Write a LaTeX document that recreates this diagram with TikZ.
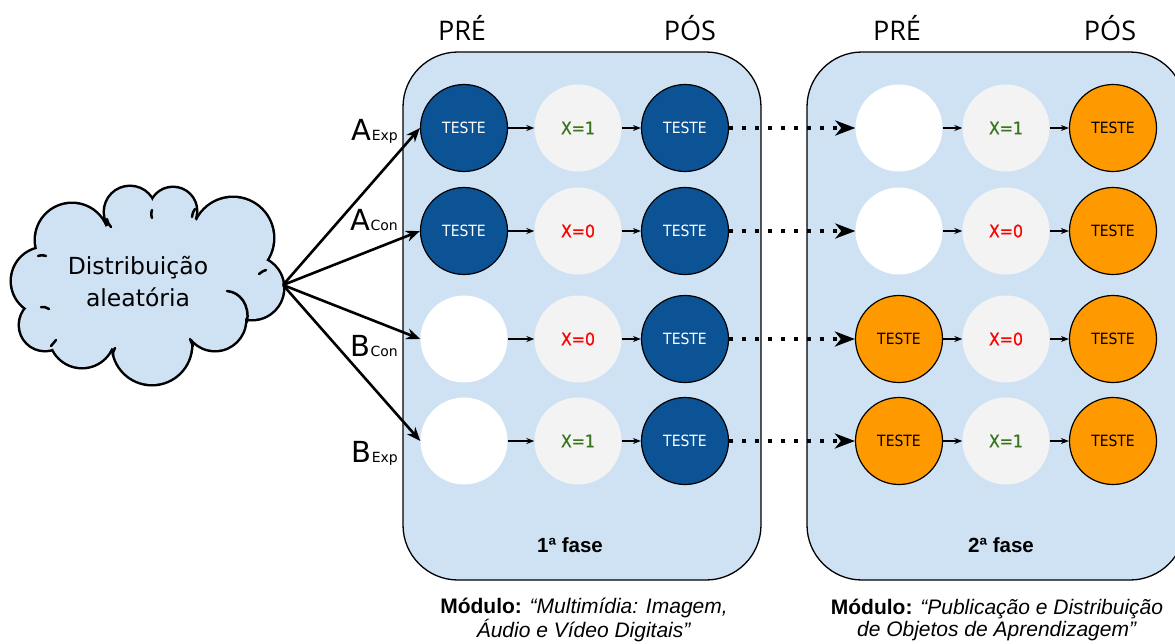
\documentclass[tikz,border=0pt]{standalone}
\usepackage{fontspec}
\setmainfont{DejaVu Sans}
\newfontfamily\condfont[FakeStretch=0.9]{DejaVu Sans}
\newfontfamily\xfont[FakeStretch=0.9,FakeBold=0.6]{DejaVu Sans}
\newfontfamily\hdrfont{Open Sans}
\newfontfamily\arialfont{Liberation Sans}
\usetikzlibrary{arrows.meta}

\definecolor{panelblue}{RGB}{207,226,243}
\definecolor{testblue}{RGB}{11,83,148}
\definecolor{testorange}{RGB}{255,153,0}
\definecolor{xgray}{RGB}{243,243,243}
\definecolor{xgreen}{RGB}{56,118,29}
\definecolor{xred}{RGB}{255,0,0}

\newcommand\grpsub[1]{{\fontsize{14}{16}\selectfont #1}}

\begin{document}
\begin{tikzpicture}[x=1pt,y=-1pt,
  panel/.style={draw=black, line width=1.3pt, fill=panelblue, rounded corners=55pt, inner sep=0pt},
  ball/.style={circle, minimum size=87pt, inner sep=0pt, font=\condfont\fontsize{15.5}{18}\selectfont},
  bluetest/.style={ball, draw=black, line width=1.2pt, fill=testblue, text=white},
  orangetest/.style={ball, draw=black, line width=1.2pt, fill=testorange, text=black},
  emptyball/.style={ball, fill=white},
  xball/.style={ball, fill=xgray, font=\xfont\fontsize{17.5}{20}\selectfont},
  grouplab/.style={anchor=base east, inner sep=0pt, font=\fontsize{29}{32}\selectfont},
  hdr/.style={anchor=base, inner sep=0pt, font=\hdrfont\fontsize{27}{30}\selectfont},
  phase/.style={anchor=base, inner sep=0pt, font=\arialfont\bfseries\fontsize{20.5}{22}\selectfont},
  modtxt/.style={align=center, inner sep=0pt, font=\arialfont\fontsize{21}{22}\selectfont},
  bigarr/.style={line width=2.6pt, -{Stealth[length=14pt,width=11pt]}},
  smallarr/.style={line width=1.2pt, -{Stealth[length=8pt,width=6pt]}},
  dotarr/.style={line width=3.5pt, dash pattern=on 3.5pt off 9.5pt, -{Stealth[length=20pt,width=15pt,inset=6pt]}},
  puffstub/.style={line width=2.5pt, line cap=round}
]
\useasboundingbox (0,0) rectangle (1175,643);
\clip (0,0) rectangle (1175,643);

% cloud: union of puffs, outline first, then fill over the inner half of the strokes
\def\puffs{45/281/33, 72/240/36, 130/212/25, 173/211/23, 233/238/40, 252/288/31,
           215/320/30, 152/345/39, 82/335/32, 45/325/25}
\foreach \cx/\cy/\r in \puffs { \draw[line width=5pt] (\cx,\cy) circle (\r); }
\foreach \cx/\cy/\r in \puffs { \fill[panelblue] (\cx,\cy) circle (\r); }
\fill[panelblue] (48,258) -- (111,224) -- (152,216) -- (190,215) -- (255,271) -- (237,319)
  -- (189,340) -- (117,349) -- (60,340) -- (51,304) -- cycle;
% short inner ends of the puffs
\draw[puffstub] (107,219) .. controls (108,223) .. (111,227);
\draw[puffstub] (152,210) .. controls (151,214) .. (152,218);
\draw[puffstub] (195,209) .. controls (193,212) .. (192,217);
\draw[puffstub] (266,270) .. controls (263,271) .. (259,274);
\draw[puffstub] (38,256) .. controls (42,255) .. (46,256);
\draw[puffstub] (41,307) .. controls (45,307) .. (49,309);
\draw[puffstub] (51,346) .. controls (53,343) .. (56,340);
\draw[puffstub] (113,356) .. controls (113,352) .. (115,348);
\draw[puffstub] (193,346) .. controls (192,343) .. (190,339);
\draw[puffstub] (227,291) .. controls (240,292) and (250,305) .. (247,322);
\node[align=center, inner sep=0pt, font=\fontsize{23.5}{32}\selectfont] (cloudtxt) at (138,282)
  {Distribuição\\aleatória};
\coordinate (cloudtip) at (283,285);

% the two phases
\node[panel, minimum width=358pt, minimum height=528pt] (ph1) at (582,316) {};
\node[panel, minimum width=378pt, minimum height=528pt] (ph2) at (996,316) {};

% first phase
\node[bluetest] (a1) at (464,128) {TESTE};
\node[xball, text=xgreen] (x1) at (578,128) {X=1};
\node[bluetest] (b1) at (685,128) {TESTE};

\node[bluetest] (a2) at (464,231) {TESTE};
\node[xball, text=xred] (x2) at (578,231) {X=0};
\node[bluetest] (b2) at (685,231) {TESTE};

\node[emptyball] (a3) at (464,339) {};
\node[xball, text=xred] (x3) at (578,339) {X=0};
\node[bluetest] (b3) at (685,339) {TESTE};

\node[emptyball] (a4) at (464,441) {};
\node[xball, text=xgreen] (x4) at (578,441) {X=1};
\node[bluetest] (b4) at (685,441) {TESTE};

% second phase
\node[emptyball] (c1) at (899,128) {};
\node[xball, text=xgreen] (y1) at (1006,128) {X=1};
\node[orangetest] (d1) at (1113,128) {TESTE};

\node[emptyball] (c2) at (899,231) {};
\node[xball, text=xred] (y2) at (1006,231) {X=0};
\node[orangetest] (d2) at (1113,231) {TESTE};

\node[orangetest] (c3) at (899,339) {TESTE};
\node[xball, text=xred] (y3) at (1006,339) {X=0};
\node[orangetest] (d3) at (1113,339) {TESTE};

\node[orangetest] (c4) at (899,441) {TESTE};
\node[xball, text=xgreen] (y4) at (1006,441) {X=1};
\node[orangetest] (d4) at (1113,441) {TESTE};

% connectors within and between phases
\foreach \r in {1,2,3,4} {
  \draw[smallarr] (a\r) -- (x\r);
  \draw[smallarr] (x\r) -- (b\r);
  \draw[dotarr] (b\r.east) -- (c\r.west);
  \draw[smallarr] (c\r) -- (y\r);
  \draw[smallarr] (y\r) -- (d\r);
}

% random assignment
\draw[bigarr] (cloudtip) -- (a1.west);
\draw[bigarr] (cloudtip) -- (a2.west);
\draw[bigarr] (cloudtip) -- (a3.west);
\draw[bigarr] (cloudtip) -- (a4.west);

% group labels
\node[grouplab] (gAE) at (398,140) {A\grpsub{Exp}};
\node[grouplab] (gAC) at (398,230) {A\grpsub{Con}};
\node[grouplab] (gBC) at (398,356) {B\grpsub{Con}};
\node[grouplab] (gBE) at (398,462) {B\grpsub{Exp}};

% column headers
\node[hdr] (h1) at (462,40) {PRÉ};
\node[hdr] (h2) at (690,40) {PÓS};
\node[hdr] (h3) at (897,40) {PRÉ};
\node[hdr] (h4) at (1110,40) {PÓS};

% phase titles and modules
\node[phase] (f1) at (570,552) {1ª fase};
\node[phase] (f2) at (1001,552) {2ª fase};
\node[modtxt] (m1) at (584,620) {\textbf{Módulo:} \textit{“Multimídia: Imagem,}\\\textit{Áudio e Vídeo Digitais”}};
\node[modtxt] (m2) at (997,620) {\textbf{Módulo:} \textit{“Publicação e Distribuição}\\\textit{de Objetos de Aprendizagem”}};
\end{tikzpicture}
\end{document}
